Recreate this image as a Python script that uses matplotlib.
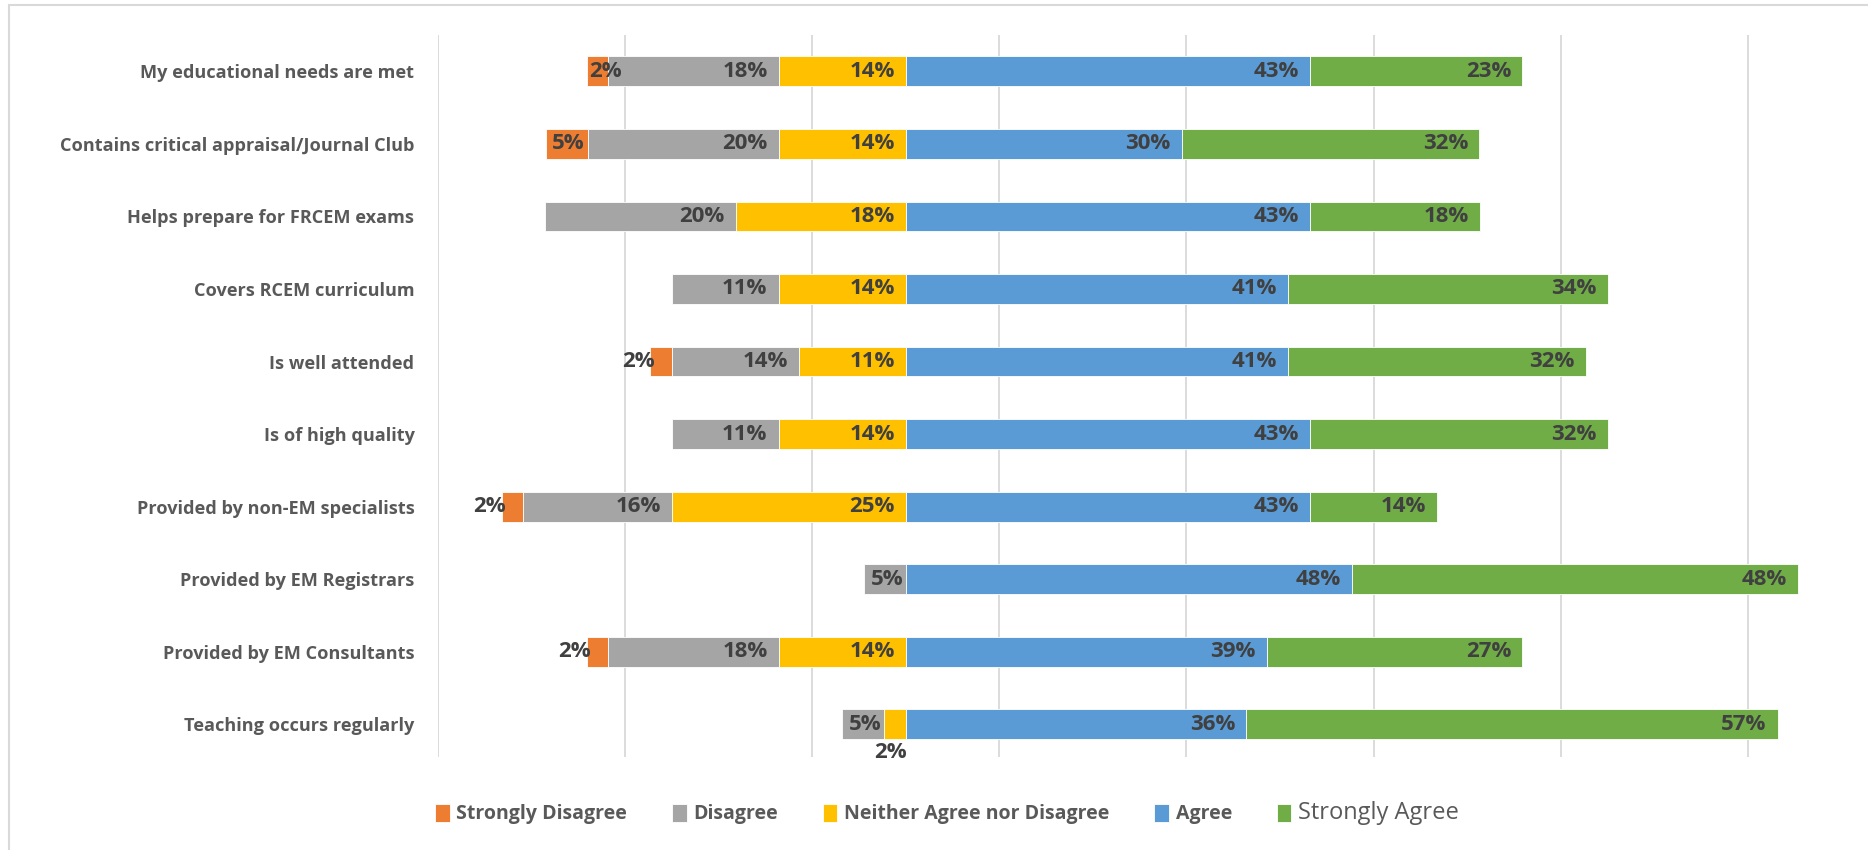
import matplotlib.pyplot as plt
import numpy as np
from matplotlib.patches import Rectangle

plt.rcParams['font.family'] = ['Open Sans', 'DejaVu Sans']

categories = [
    "My educational needs are met",
    "Contains critical appraisal/Journal Club",
    "Helps prepare for FRCEM exams",
    "Covers RCEM curriculum",
    "Is well attended",
    "Is of high quality",
    "Provided by non-EM specialists",
    "Provided by EM Registrars",
    "Provided by EM Consultants",
    "Teaching occurs regularly",
]

strongly_disagree = [2.3, 4.5, 0, 0, 2.3, 0, 2.3, 0, 2.3, 0]
disagree = [18.2, 20.4, 20.4, 11.4, 13.6, 11.4, 15.9, 4.5, 18.2, 4.5]
neutral = [13.6, 13.6, 18.2, 13.6, 11.4, 13.6, 25.0, 0, 13.6, 2.3]
agree = [43.2, 29.5, 43.2, 40.9, 40.9, 43.2, 43.2, 47.7, 38.6, 36.4]
strongly_agree = [22.7, 31.8, 18.2, 34.1, 31.8, 31.8, 13.6, 47.7, 27.3, 56.8]

series_names = ["Strongly Disagree", "Disagree", "Neither Agree nor Disagree",
                "Agree", "Strongly Agree"]
colors = ["#ED7D31", "#A5A5A5", "#FFC000", "#5B9BD5", "#70AD47"]

LABEL_FONT = ['Liberation Sans Narrow', 'Open Sans', 'DejaVu Sans']
LABEL_COLOR = "#404040"

fig = plt.figure(figsize=(18.68, 8.5), dpi=100)
ax = fig.add_axes([438 / 1868, 1 - 757 / 850, (1804 - 438) / 1868, (757 - 35) / 850])

y = np.arange(len(categories))
h = 0.41

sd = np.array(strongly_disagree)
d = np.array(disagree)
n = np.array(neutral)
a = np.array(agree)
sa = np.array(strongly_agree)

# negative side: neutral next to zero, then disagree, then strongly disagree
lefts = [-(n + d + sd), -(n + d), -n, np.zeros_like(a), a]
widths = [sd, d, n, a, sa]

# special label placements for tiny segments (row, series) -> mode
special = {(0, 0): "left_in", (1, 0): "end_small", (4, 0): "left_out",
           (6, 0): "left_out", (8, 0): "left_out", (7, 1): "end_small",
           (9, 1): "end_small", (9, 2): "below"}

for k in range(5):
    ax.barh(y, widths[k], left=lefts[k], height=h, color=colors[k],
            edgecolor="white", linewidth=0.6, label=series_names[k], zorder=3)
    for i in range(len(categories)):
        w = widths[k][i]
        if w <= 0:
            continue
        txt = f"{int(np.floor(w + 0.5))}%"
        l = lefts[k][i]
        mode = special.get((i, k), "end")
        if mode == "end":
            xy, off, ha, va = (l + w, y[i]), (-8, 0), "right", "center"
        elif mode == "end_small":
            xy, off, ha, va = (l + w, y[i]), (-2, 0), "right", "center"
        elif mode == "left_in":
            xy, off, ha, va = (l, y[i]), (2, 0), "left", "center"
        elif mode == "left_out":
            xy, off, ha, va = (l, y[i]), (3, 0), "right", "center"
        else:
            xy, off, ha, va = (l + w / 2, y[i] + h / 2), (-3, -2), "center", "top"
        ax.annotate(txt, xy=xy, xytext=off, textcoords="offset points",
                    ha=ha, va=va, fontsize=16, fontweight="bold",
                    color=LABEL_COLOR, family=LABEL_FONT, zorder=5)

ax.set_xlim(-50, 96)
ax.set_ylim(len(categories) - 0.55, -0.5)
ax.set_xticks(np.arange(-50, 91, 20))
ax.set_xticklabels([])
ax.tick_params(axis="x", length=0)
ax.grid(axis="x", color="#D9D9D9", linewidth=1.3, zorder=0)
ax.set_yticks(y)
ax.set_yticklabels(categories, fontsize=13.1, fontweight="bold", color="#595959")
ax.tick_params(axis="y", length=0, pad=17)
for s in ax.spines.values():
    s.set_visible(False)

leg = fig.legend(loc="center", bbox_to_anchor=(0.507, 0.043), ncol=5,
                 frameon=False, handlelength=0.75, handleheight=1.1,
                 handletextpad=0.35, columnspacing=2.3,
                 prop={"family": LABEL_FONT, "size": 14, "weight": "bold"})
for t in leg.get_texts():
    t.set_color("#595959")
last = leg.get_texts()[-1]
last.set_fontweight("normal")
last.set_fontsize(17)

# chart frame
fig.patches.append(Rectangle((9 / 1868, -0.01), 1.02, 1 - 5 / 850 + 0.01,
                             transform=fig.transFigure, fill=False,
                             edgecolor="#D9D9D9", linewidth=1.5))

fig.savefig("out.png", dpi=100, facecolor="white")
